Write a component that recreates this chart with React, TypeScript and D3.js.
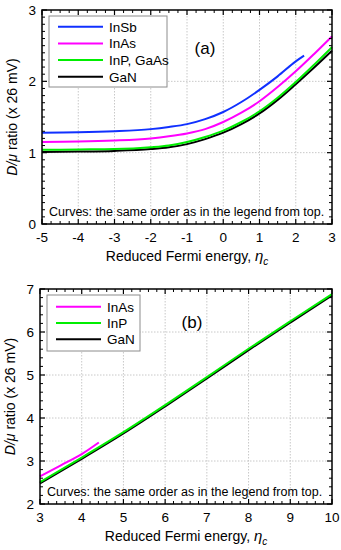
import React from "react";
import * as d3 from "d3";

// ---------- Data ----------
// Panel (a)
const etaA = [-5, -4, -3, -2, -1.5, -1, -0.5, 0, 0.5, 1, 1.5, 2, 2.5, 3];
const etaInSbA = [-5, -4, -3, -2, -1.5, -1, -0.5, 0, 0.5, 1, 1.5, 2, 2.23];
const inSbA = [1.28, 1.285, 1.3, 1.33, 1.36, 1.4, 1.47, 1.57, 1.71, 1.88, 2.07, 2.28, 2.36];
const inAsA = [1.15, 1.155, 1.17, 1.2, 1.23, 1.27, 1.33, 1.43, 1.56, 1.72, 1.92, 2.14, 2.38, 2.63];
const inPA = [1.04, 1.045, 1.05, 1.075, 1.1, 1.15, 1.22, 1.31, 1.43, 1.58, 1.77, 1.99, 2.23, 2.48];
const gaNA = [1.01, 1.015, 1.025, 1.05, 1.075, 1.12, 1.19, 1.28, 1.4, 1.55, 1.74, 1.96, 2.19, 2.43];

// Panel (b)
const etaB = [3, 4, 5, 6, 7, 8, 9, 10];
const etaInAsB = [3, 3.5, 4, 4.41];
const inAsB = [2.64, 2.9, 3.16, 3.43];
const inPB = [2.51, 3.08, 3.67, 4.3, 4.95, 5.61, 6.25, 6.88];
const gaNB = [2.48, 3.05, 3.64, 4.27, 4.92, 5.58, 6.22, 6.85];

const xTicksA = [-5, -4, -3, -2, -1, 0, 1, 2, 3];
const yTicksA = [0, 1, 2, 3];
const xTicksB = [3, 4, 5, 6, 7, 8, 9, 10];
const yTicksB = [2, 3, 4, 5, 6, 7];

const legendA = ["InSb", "InAs", "InP, GaAs", "GaN"];
const legendB = ["InAs", "InP", "GaN"];
const note = "Curves: the same order as in the legend from top.";

const BLUE = "#1030ff";
const MAGENTA = "#ff00ff";
const GREEN = "#00ee00";
const BLACK = "#000000";
const FONT = "'Liberation Sans', Arial, sans-serif";

type Series = { x: number[]; y: number[]; color: string };

type PanelProps = {
  left: number;
  right: number;
  top: number;
  bottom: number;
  xDomain: [number, number];
  yDomain: [number, number];
  xTicks: number[];
  yTicks: number[];
  xMinorStep: number;
  yMinorStep: number;
  series: Series[]; // drawing order
  legend: { label: string; color: string }[];
  legendBox: { x: number; y: number; w: number; h: number; first: number; step: number };
  tag: string;
  tagPos: [number, number];
};

function Panel(p: PanelProps) {
  const x = d3.scaleLinear().domain(p.xDomain).range([p.left, p.right]);
  const y = d3.scaleLinear().domain(p.yDomain).range([p.bottom, p.top]);
  const line = d3
    .line<[number, number]>()
    .x((d) => x(d[0]))
    .y((d) => y(d[1]))
    .curve(d3.curveMonotoneX);

  const minorX = d3.range(p.xDomain[0], p.xDomain[1] + 1e-9, p.xMinorStep).filter(
    (v) => !p.xTicks.some((t) => Math.abs(t - v) < 1e-6)
  );
  const minorY = d3.range(p.yDomain[0], p.yDomain[1] + 1e-9, p.yMinorStep).filter(
    (v) => !p.yTicks.some((t) => Math.abs(t - v) < 1e-6)
  );
  const innerX = p.xTicks.filter((t) => t > p.xDomain[0] && t < p.xDomain[1]);
  const innerY = p.yTicks.filter((t) => t > p.yDomain[0] && t < p.yDomain[1]);
  const midY = (p.top + p.bottom) / 2;
  const midX = (p.left + p.right) / 2;
  const lb = p.legendBox;

  return (
    <g>
      {/* grid */}
      {innerX.map((t) => (
        <line key={"gx" + t} x1={x(t)} x2={x(t)} y1={p.top} y2={p.bottom} stroke="#c8c8c8" strokeWidth={1} strokeDasharray="1.5,1.5" />
      ))}
      {innerY.map((t) => (
        <line key={"gy" + t} x1={p.left} x2={p.right} y1={y(t)} y2={y(t)} stroke="#c8c8c8" strokeWidth={1} strokeDasharray="1.5,1.5" />
      ))}

      {/* curves */}
      {p.series.map((s, i) => (
        <path
          key={"s" + i}
          d={line(s.x.map((v, j) => [v, s.y[j]] as [number, number])) || ""}
          fill="none"
          stroke={s.color}
          strokeWidth={2}
        />
      ))}

      {/* ticks */}
      {p.xTicks.map((t) => (
        <g key={"tx" + t}>
          <line x1={x(t)} x2={x(t)} y1={p.bottom} y2={p.bottom - 5} stroke="#000" strokeWidth={1.2} />
          <line x1={x(t)} x2={x(t)} y1={p.top} y2={p.top + 5} stroke="#000" strokeWidth={1.2} />
        </g>
      ))}
      {minorX.map((t) => (
        <g key={"mx" + t}>
          <line x1={x(t)} x2={x(t)} y1={p.bottom} y2={p.bottom - 3} stroke="#000" strokeWidth={1} />
          <line x1={x(t)} x2={x(t)} y1={p.top} y2={p.top + 3} stroke="#000" strokeWidth={1} />
        </g>
      ))}
      {p.yTicks.map((t) => (
        <g key={"ty" + t}>
          <line x1={p.left} x2={p.left + 5} y1={y(t)} y2={y(t)} stroke="#000" strokeWidth={1.2} />
          <line x1={p.right} x2={p.right - 5} y1={y(t)} y2={y(t)} stroke="#000" strokeWidth={1.2} />
        </g>
      ))}
      {minorY.map((t) => (
        <g key={"my" + t}>
          <line x1={p.left} x2={p.left + 3} y1={y(t)} y2={y(t)} stroke="#000" strokeWidth={1} />
          <line x1={p.right} x2={p.right - 3} y1={y(t)} y2={y(t)} stroke="#000" strokeWidth={1} />
        </g>
      ))}

      {/* frame */}
      <rect x={p.left} y={p.top} width={p.right - p.left} height={p.bottom - p.top} fill="none" stroke="#000" strokeWidth={1.5} />

      {/* tick labels */}
      {p.xTicks.map((t) => (
        <text key={"lx" + t} x={x(t)} y={p.bottom + 18} textAnchor="middle" fontSize={13.5} fontFamily={FONT}>
          {t < 0 ? "-" + Math.abs(t) : String(t)}
        </text>
      ))}
      {p.yTicks.map((t) => (
        <text key={"ly" + t} x={p.left - 6} y={y(t) + 5} textAnchor="end" fontSize={13.5} fontFamily={FONT}>
          {t}
        </text>
      ))}

      {/* axis titles */}
      <text x={midX} y={p.bottom + 37} textAnchor="middle" fontSize={14} fontFamily={FONT}>
        Reduced Fermi energy,{" "}
        <tspan fontStyle="italic" fontSize={15}>η</tspan>
        <tspan fontStyle="italic" fontSize={10} dy={4}>c</tspan>
      </text>
      <text
        transform={`translate(${p.left - 25},${midY}) rotate(-90)`}
        textAnchor="middle"
        fontSize={14}
        fontFamily={FONT}
      >
        <tspan fontStyle="italic">D</tspan>
        <tspan fontStyle="italic">/</tspan>
        <tspan fontStyle="italic">μ</tspan>
        <tspan>{"  ratio (x 26 mV)"}</tspan>
      </text>

      {/* legend */}
      <rect x={lb.x} y={lb.y} width={lb.w} height={lb.h} fill="#fff" stroke="#8c8c8c" strokeWidth={1} />
      {p.legend.map((l, i) => (
        <g key={"lg" + i}>
          <line x1={lb.x + 9} x2={lb.x + 54} y1={lb.first + i * lb.step} y2={lb.first + i * lb.step} stroke={l.color} strokeWidth={2} />
          <text x={lb.x + 60} y={lb.first + i * lb.step + 5} fontSize={13.5} fontFamily={FONT}>
            {l.label}
          </text>
        </g>
      ))}

      {/* panel tag */}
      <text x={p.tagPos[0]} y={p.tagPos[1]} textAnchor="middle" fontSize={17} fontFamily={FONT}>
        {p.tag}
      </text>

      {/* note */}
      <text x={p.left + 7} y={p.bottom - 8} fontSize={12.5} fontFamily={FONT}>
        {note}
      </text>
    </g>
  );
}

export default function App() {
  return (
    <svg
      width={341}
      height={550}
      viewBox="0 0 341 550"
      style={{ position: "absolute", left: 0, top: 0, display: "block", background: "#fff" }}
    >
      <rect x={0} y={0} width={341} height={550} fill="#fff" />
      <Panel
        left={42}
        right={332}
        top={10}
        bottom={224}
        xDomain={[-5, 3]}
        yDomain={[0, 3]}
        xTicks={xTicksA}
        yTicks={yTicksA}
        xMinorStep={0.25}
        yMinorStep={0.1}
        series={[
          { x: etaA, y: gaNA, color: BLACK },
          { x: etaA, y: inPA, color: GREEN },
          { x: etaA, y: inAsA, color: MAGENTA },
          { x: etaInSbA, y: inSbA, color: BLUE },
        ]}
        legend={legendA.map((label, i) => ({ label, color: [BLUE, MAGENTA, GREEN, BLACK][i] }))}
        legendBox={{ x: 49, y: 16, w: 118, h: 71, first: 26.7, step: 16.7 }}
        tag="(a)"
        tagPos={[205, 54]}
      />
      <Panel
        left={40}
        right={332}
        top={289}
        bottom={504}
        xDomain={[3, 10]}
        yDomain={[2, 7]}
        xTicks={xTicksB}
        yTicks={yTicksB}
        xMinorStep={0.2}
        yMinorStep={0.2}
        series={[
          { x: etaB, y: gaNB, color: BLACK },
          { x: etaB, y: inPB, color: GREEN },
          { x: etaInAsB, y: inAsB, color: MAGENTA },
        ]}
        legend={legendB.map((label, i) => ({ label, color: [MAGENTA, GREEN, BLACK][i] }))}
        legendBox={{ x: 47, y: 295, w: 93, h: 56, first: 306.7, step: 16.3 }}
        tag="(b)"
        tagPos={[192, 328]}
      />
    </svg>
  );
}
